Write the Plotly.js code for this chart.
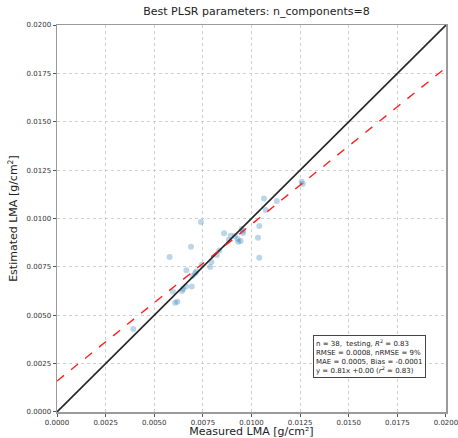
<!DOCTYPE html>
<html><head><meta charset="utf-8">
<script src="https://cdn.plot.ly/plotly-3.0.1.min.js"></script>
<style>html,body{margin:0;padding:0;background:#fff}#chart{width:458px;height:438px}</style>
</head><body><div id="chart"></div>
<script>
const measured = [0.00392,0.00579,0.00596,0.00607,0.00619,0.00643,0.00663,0.00693,0.00665,0.00689,
  0.00696,0.00710,0.00740,0.00787,0.00794,0.00821,0.00835,0.00859,0.00893,0.00884,
  0.00929,0.00944,0.00932,0.00950,0.00955,0.01040,0.01033,0.01040,0.01064,0.01130,
  0.01073,0.01258,0.01263,0.00717,0.00744,0.00915,0.00648,0.00956];
const estimated = [0.00429,0.00801,0.00623,0.00565,0.00570,0.00625,0.00648,0.00648,0.00732,0.00854,
  0.00703,0.00717,0.00982,0.00749,0.00775,0.00811,0.00835,0.00924,0.00911,0.00889,
  0.00894,0.00884,0.00880,0.00946,0.00935,0.00961,0.00901,0.00797,0.01104,0.01090,
  0.01044,0.01190,0.01178,0.00726,0.00760,0.00910,0.00636,0.00925];
const oneToOneX = [0, 0.02];
const oneToOneY = [0, 0.02];
const fitX = [0, 0.02];
const fitY = [0.0016, 0.0178];
const tickVals = [0,0.0025,0.005,0.0075,0.01,0.0125,0.015,0.0175,0.02];
const tickText = ["0.0000","0.0025","0.0050","0.0075","0.0100","0.0125","0.0150","0.0175","0.0200"];
const statsText = "n = 38,  testing, <i>R</i><sup>2</sup> = 0.83<br>RMSE = 0.0008, nRMSE = 9%<br>MAE = 0.0005, Bias = -0.0001<br>y = 0.81x +0.00 (<i>r</i><sup>2</sup> = 0.83)";

const traces = [
  {x: measured, y: estimated, mode: 'markers', type: 'scatter',
   marker: {color: 'rgba(31,119,180,0.3)', size: 6}},
  {x: oneToOneX, y: oneToOneY, mode: 'lines', type: 'scatter',
   line: {color: '#262626', width: 1.6}},
  {x: fitX, y: fitY, mode: 'lines', type: 'scatter',
   line: {color: '#ff2020', width: 1.4, dash: 'dash'}}
];
const axisCommon = {
  range: [-0.000001, 0.020001], tickvals: tickVals, ticktext: tickText,
  showgrid: true, gridcolor: '#d0d0d0', griddash: 'dot', gridwidth: 1,
  zeroline: false, showline: true, linecolor: '#9a9a9a', linewidth: 1.5, mirror: true,
  ticks: 'outside', ticklen: 3, tickcolor: '#555', tickwidth: 1,
  ticklabeloverflow: 'allow',
  tickfont: {family: 'DejaVu Sans', size: 7, color: '#333'}
};
const layout = {
  width: 458, height: 438,
  margin: {l: 57, r: 12, t: 25, b: 26},
  paper_bgcolor: '#fff', plot_bgcolor: '#fff',
  showlegend: false,
  title: {text: 'Best PLSR parameters: n_components=8', font: {family: 'DejaVu Sans', size: 11, color: '#222'},
          x: 0.56, xanchor: 'center', y: 0.975, yanchor: 'middle'},
  xaxis: Object.assign({}, axisCommon, {
    title: {text: 'Measured LMA [g/cm²]', font: {family: 'DejaVu Sans', size: 11, color: '#222'}, standoff: 0}}),
  yaxis: Object.assign({}, axisCommon, {
    title: {text: 'Estimated LMA [g/cm<sup>2</sup>]', font: {family: 'DejaVu Sans', size: 11, color: '#222'}, standoff: 6}}),
  annotations: [{
    xref: 'paper', yref: 'paper', x: 0.658, y: 0.2, xanchor: 'left', yanchor: 'top',
    text: statsText, showarrow: false, align: 'left',
    font: {family: 'DejaVu Sans', size: 7, color: '#222'},
    bgcolor: '#fff', bordercolor: '#444', borderwidth: 1, borderpad: 2
  }]
};
Plotly.newPlot('chart', traces, layout, {displayModeBar: false, staticPlot: true});
</script></body></html>
